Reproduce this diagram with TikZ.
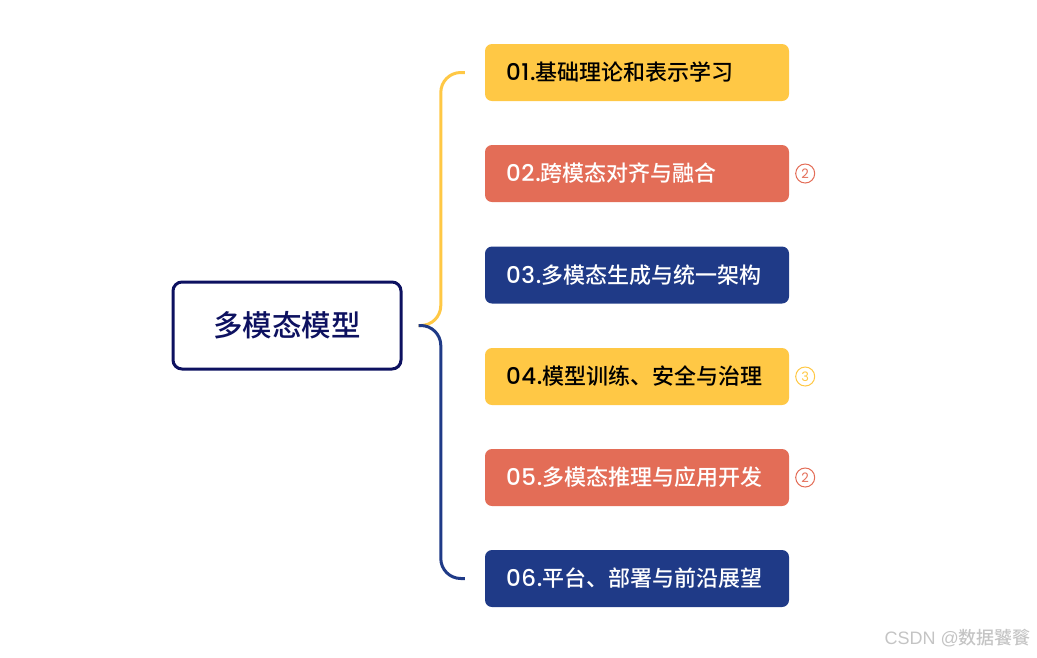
\documentclass[tikz,border=0pt]{standalone}
\usepackage{fontspec}
\newfontfamily\cjk{Noto Sans CJK SC}[UprightFont={* Medium}]
\newfontfamily\lat{Poppins}[UprightFont={* Medium}, LetterSpace=3]
\newfontfamily\latr{Poppins}
\newfontfamily\wm{Liberation Sans}
\usetikzlibrary{calc}
\definecolor{cyel}{HTML}{FFC845}
\definecolor{ccor}{HTML}{E36D57}
\definecolor{cnav}{HTML}{1F3A87}
\definecolor{cdark}{HTML}{0D1160}
\definecolor{cwm}{HTML}{C4C4C4}
\tikzset{
  itembox/.style={rectangle, rounded corners=7, minimum width=304, minimum height=57,
    text width=262, inner xsep=21, inner ysep=0, align=left,
    font=\fontsize{22}{26}\selectfont},
  yitem/.style={itembox, fill=cyel, text=black},
  citem/.style={itembox, fill=ccor, text=white},
  nitem/.style={itembox, fill=cnav, text=white},
  rootbox/.style={rectangle, rounded corners=9, draw=cdark, line width=3, fill=white,
    minimum width=228, minimum height=87, text=cdark, font=\fontsize{29.5}{33}\selectfont},
  badge/.style={circle, line width=1, minimum size=19, inner sep=0,
    font=\latr\fontsize{13}{13}\selectfont},
  brace/.style={line width=3, rounded corners=20},
}
\begin{document}
\begin{tikzpicture}[x=1pt,y=-1pt]
\useasboundingbox (0,0) rectangle (1037,657);
\node[rootbox] (root) at (287,325.5) {\cjk 多模态模型};
\node[yitem] (b1) at (637,72.5) {{\lat\fontsize{23}{26}\selectfont 01.}{\cjk 基础理论和表示学习}};
\node[citem] (b2) at (637,173.5) {{\lat\fontsize{23}{26}\selectfont 02.}{\cjk 跨模态对齐与融合}};
\node[nitem] (b3) at (637,275) {{\lat\fontsize{23}{26}\selectfont 03.}{\cjk 多模态生成与统一架构}};
\node[yitem] (b4) at (637,376.5) {{\lat\fontsize{23}{26}\selectfont 04.}{\cjk 模型训练、安全与治理}};
\node[citem] (b5) at (637,477.5) {{\lat\fontsize{23}{26}\selectfont 05.}{\cjk 多模态推理与应用开发}};
\node[nitem] (b6) at (637,578.5) {{\lat\fontsize{23}{26}\selectfont 06.}{\cjk 平台、部署与前沿展望}};
\coordinate (j) at ($(root.east)+(16,0)$);
\draw[brace, cyel] (j) -| ($(b1.west)+(-44,0)$) -- ($(b1.west)+(-20,0)$);
\draw[brace, cnav] (j) -| ($(b6.west)+(-44,0)$) -- ($(b6.west)+(-20,0)$);
\node[badge, draw=ccor, text=ccor] (c2) at ($(b2.east)+(16,0)$) {2};
\node[badge, draw=cyel, text=cyel] (c4) at ($(b4.east)+(16,0)$) {3};
\node[badge, draw=ccor, text=ccor] (c5) at ($(b5.east)+(16,0)$) {2};
\node[anchor=east, text=cwm, inner sep=0, font=\fontsize{18}{20}\selectfont] (wm) at (1031,638) {{\wm CSDN @}{\cjk 数据饕餮}};
\end{tikzpicture}
\end{document}
